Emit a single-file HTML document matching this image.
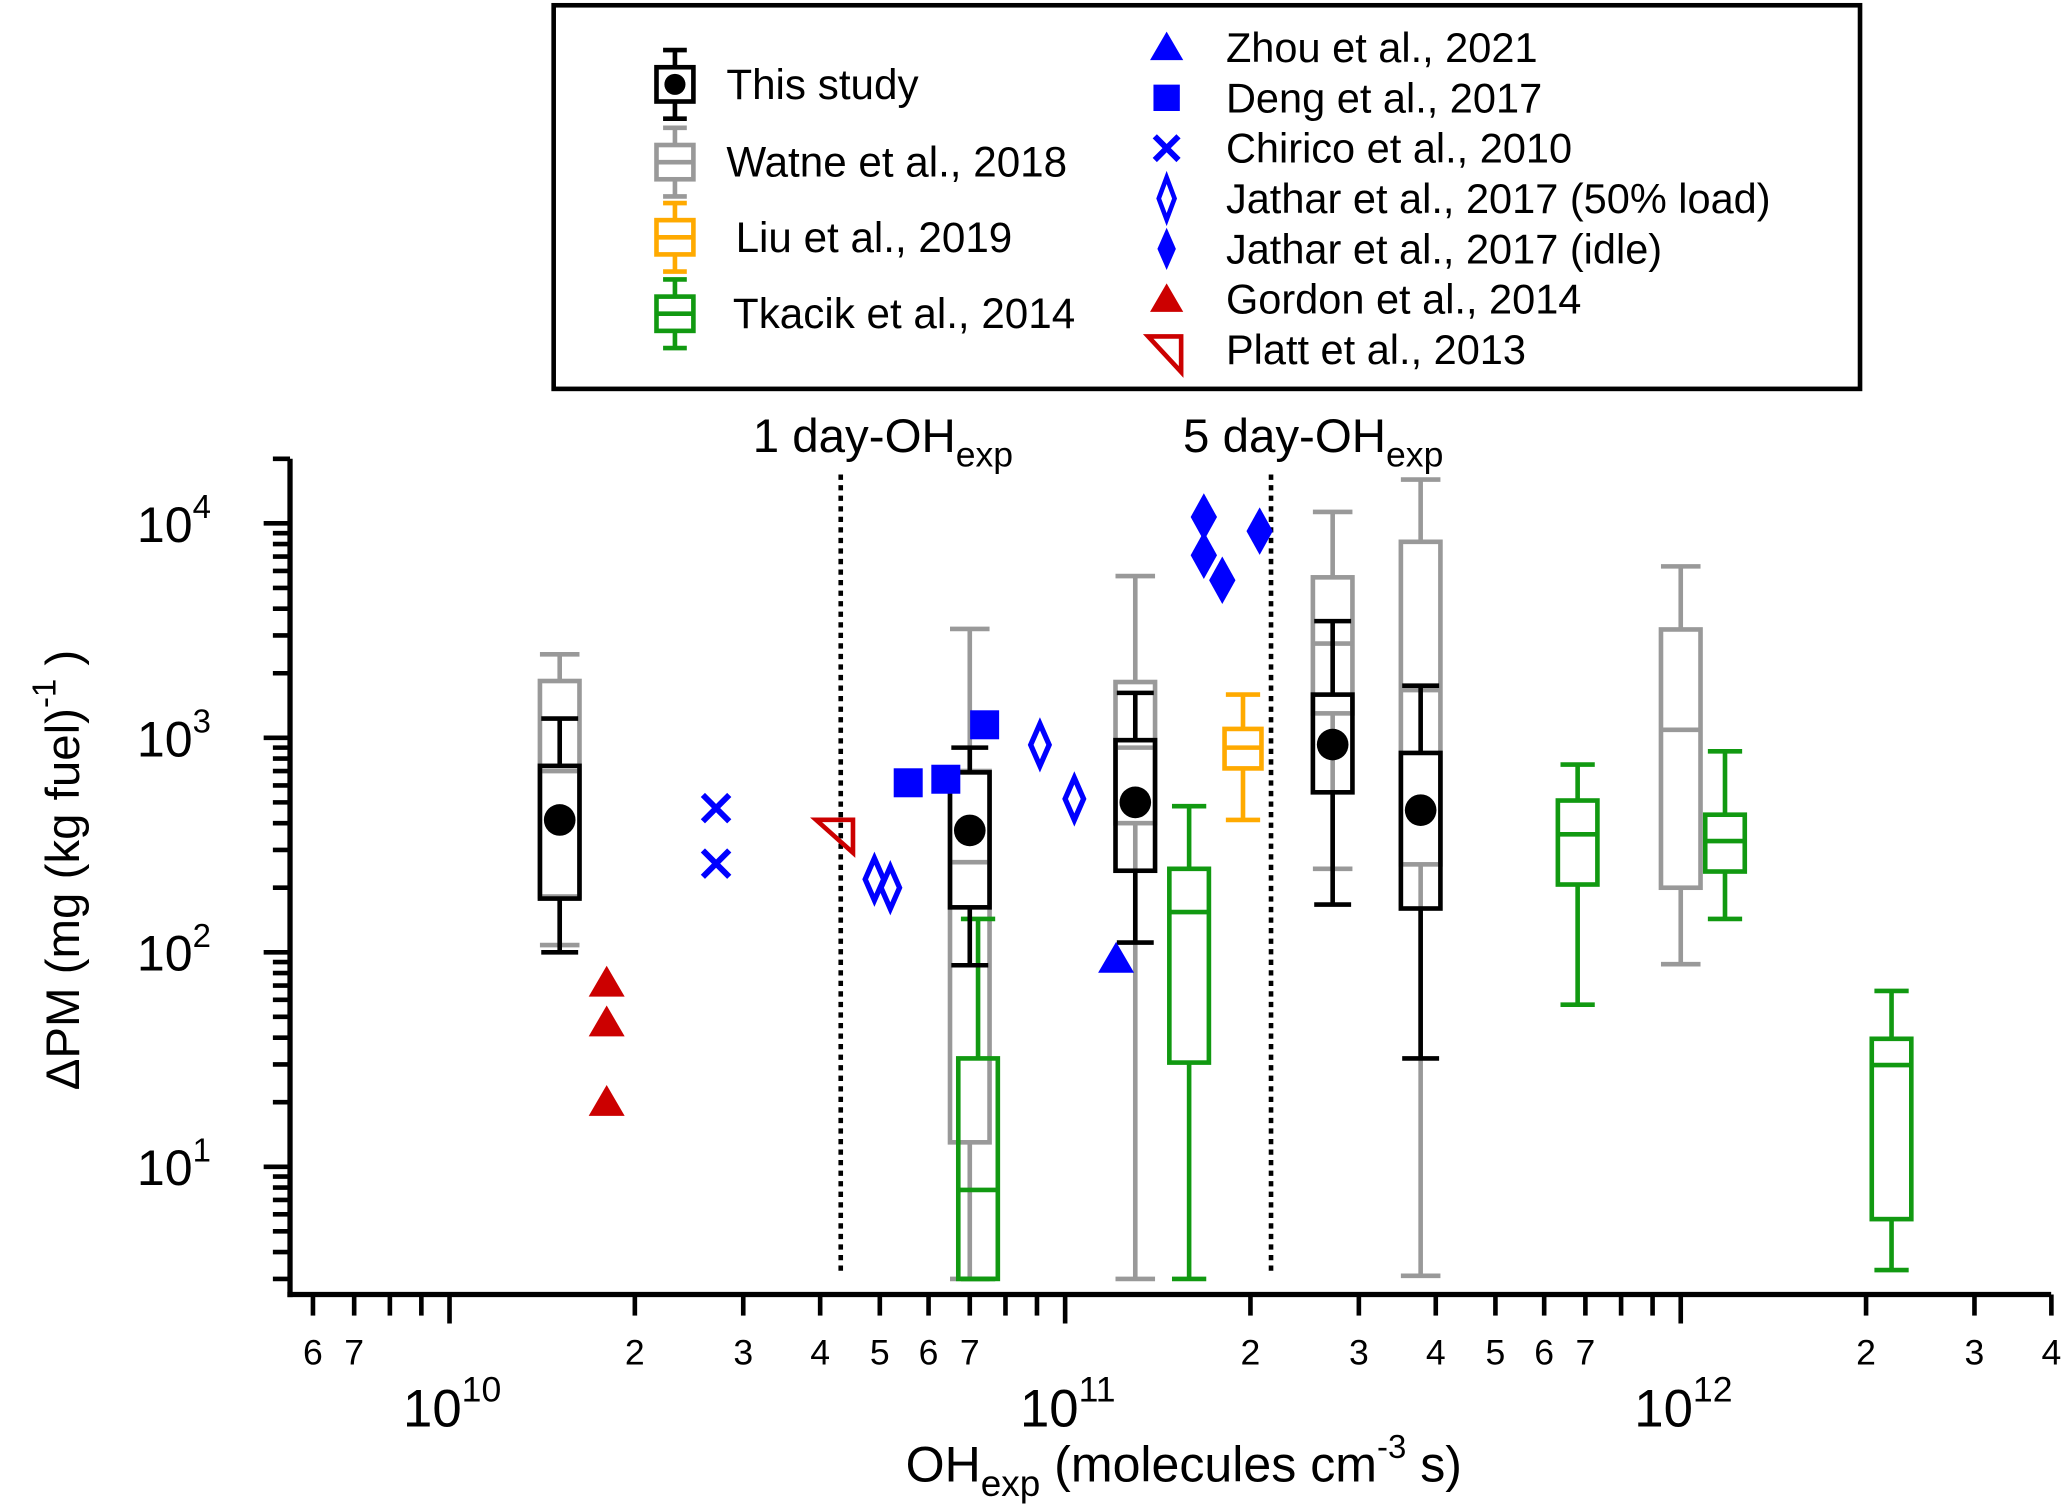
<!DOCTYPE html>
<html><head><meta charset="utf-8"><style>
html,body{margin:0;padding:0;background:#fff;}
svg{display:block;font-family:"Liberation Sans",Arial,sans-serif;}
</style></head><body>
<svg id="chart" width="2067" height="1512" viewBox="0 0 1568 1147" xmlns="http://www.w3.org/2000/svg">
<g id="plot"></g>
</svg>
<script>
// ---- data ----
const boxGroups = ["This study","Watne et al., 2018","Liu et al., 2019","Tkacik et al., 2014"];
const thisX    = [1.51e10, 7.0e10, 1.30e11, 2.72e11, 3.78e11];
const thisLo   = [100, 87, 111, 167, 32];
const thisQ1   = [178, 162, 240, 557, 160];
const thisQ3   = [740, 690, 975, 1590, 850];
const thisHi   = [1230, 900, 1620, 3500, 1750];
const thisMean = [414, 370, 500, 930, 460];

const watneX   = [1.51e10, 7.0e10, 1.30e11, 2.72e11, 3.78e11, 1.0e12];
const watneLo  = [108, 3, 3, 245, 3.1, 88];
const watneQ1  = [182, 13, 400, 1300, 257, 200];
const watneMed = [700, 263, 900, 2750, 1670, 1090];
const watneQ3  = [1840, 700, 1820, 5600, 8200, 3200];
const watneHi  = [2450, 3220, 5680, 11300, 16000, 6300];

const liuX   = [1.945e11];
const liuLo  = [414];
const liuQ1  = [720];
const liuMed = [900];
const liuQ3  = [1100];
const liuHi  = [1590];

const tkX   = [7.22e10, 1.59e11, 6.8e11, 1.18e12, 2.2e12];
const tkLo  = [3, 3, 57, 143, 3.3];
const tkQ1  = [3, 30.6, 207, 238, 5.7];
const tkMed = [7.8, 154, 355, 330, 29.8];
const tkQ3  = [32, 245, 510, 438, 39.5];
const tkHi  = [143, 480, 750, 865, 66];

const zhouX = [1.21e11], zhouY = [93];
const dengX = [5.56e10, 6.4e10, 7.4e10], dengY = [617, 641, 1150];
const chiricoX = [2.71e10, 2.71e10], chiricoY = [470, 259];
const jatharLoadX = [4.9e10, 5.2e10, 9.1e10, 1.035e11], jatharLoadY = [219, 200, 927, 519];
const jatharIdleX = [1.68e11, 1.68e11, 1.80e11, 2.07e11], jatharIdleY = [10700, 7100, 5430, 9200];
const gordonX = [1.8e10, 1.8e10, 1.8e10], gordonY = [72, 47, 20];
const plattX = [4.2e10], plattY = [360];
const refLinesX = [4.32e10, 2.16e11];
const refLabels = ["1 day-OH", "5 day-OH"];

const yTickExps = [1, 2, 3, 4];
const xDecadeExps = [10, 11, 12];
const xMinorLabels = [6e9,7e9,2e10,3e10,4e10,5e10,6e10,7e10,2e11,3e11,4e11,5e11,6e11,7e11,2e12,3e12,4e12];

// ---- axes ----
const L=220, R=1556, T=348, B=982;
const X0 = 341, XD = 467;
const Y0 = 397, YD = 162.7;
function sx(v){ return X0 + (Math.log10(v) - 10) * XD; }
function sy(v){ return Y0 - (Math.log10(v) - 4) * YD; }

const NS="http://www.w3.org/2000/svg";
const plot=document.getElementById('plot');
function mk(tag, attrs, parent){
  const e=document.createElementNS(NS,tag);
  for(const k in attrs) e.setAttribute(k, attrs[k]);
  (parent||plot).appendChild(e); return e;
}
function grp(name){
  const g=mk('g',{});
  
  
  return g;
}

const ax=grp('axes');
mk('line',{x1:L,y1:T,x2:L,y2:B+2,stroke:'#000','stroke-width':4},ax);
mk('line',{x1:L-2,y1:B,x2:R,y2:B,stroke:'#000','stroke-width':4},ax);
for(let e=0;e<=4;e++){
  for(let m=1;m<10;m++){
    const v=m*Math.pow(10,e); const y=sy(v);
    if(y<T-1||y>B) continue;
    mk('line',{x1:L-(m===1?20:13),y1:y,x2:L,y2:y,stroke:'#000','stroke-width':3.5},ax);
  }
}
yTickExps.forEach(e=>{
  const t=mk('text',{x:L-60,y:sy(Math.pow(10,e))+14,'font-size':38,'text-anchor':'end'},ax);
  
  
  t.innerHTML='10<tspan dy="-18" font-size="25">'+e+'</tspan>';
});
for(let e=9;e<=12;e++){
  for(let m=1;m<10;m++){
    const v=m*Math.pow(10,e); const x=sx(v);
    if(x<L||x>R+2) continue;
    mk('line',{x1:x,y1:B,x2:x,y2:B+(m===1?22:16),stroke:'#000','stroke-width':3.5},ax);
  }
}
xMinorLabels.forEach(v=>{
  const m=Math.round(v/Math.pow(10,Math.floor(Math.log10(v)+1e-9)));
  const t=mk('text',{x:sx(v),y:B+53,'font-size':27,'text-anchor':'middle'},ax);
  
  
  t.textContent=m;
});
xDecadeExps.forEach(e=>{
  const t=mk('text',{x:sx(Math.pow(10,e))+2,y:B+100,'font-size':40,'text-anchor':'middle'},ax);
  
  
  t.innerHTML='10<tspan dy="-19" font-size="27">'+e+'</tspan>';
});
let t=mk('text',{x:898,y:1124,'font-size':38,'text-anchor':'middle'});


t.innerHTML='OH<tspan dy="11" font-size="28">exp</tspan><tspan dy="-11"> (molecules cm</tspan><tspan dy="-18" font-size="25">-3</tspan><tspan dy="18"> s)</tspan>';
t=mk('text',{x:0,y:0,'font-size':36,'text-anchor':'middle',transform:'translate(60,660) rotate(-90)'});


t.innerHTML='ΔPM (mg (kg fuel)<tspan dy="-18" font-size="25">-1</tspan><tspan dy="18"> )</tspan>';

refLinesX.forEach((v,i)=>{
  const g=grp('reference-line-'+(i+1));
  mk('line',{x1:sx(v),y1:360,x2:sx(v),y2:968,stroke:'#000','stroke-width':3.5,'stroke-dasharray':'4 4'},g);
  const tx=mk('text',{x:sx(v)+32,y:343,'font-size':36,'text-anchor':'middle'},g);
  tx.innerHTML=refLabels[i]+'<tspan dy="11" font-size="27">exp</tspan>';
});

function drawBox(x,lo,q1,med,q3,hi,col,name,w,capW){
  const g=grp(name);
  const cx=sx(x), hw=w/2, cw=capW/2;
  mk('line',{x1:cx,y1:sy(hi),x2:cx,y2:sy(q3),stroke:col,'stroke-width':3.5},g);
  mk('line',{x1:cx,y1:sy(q1),x2:cx,y2:sy(lo),stroke:col,'stroke-width':3.5},g);
  mk('line',{x1:cx-cw,y1:sy(hi),x2:cx+cw,y2:sy(hi),stroke:col,'stroke-width':3.5},g);
  mk('line',{x1:cx-cw,y1:sy(lo),x2:cx+cw,y2:sy(lo),stroke:col,'stroke-width':3.5},g);
  mk('rect',{x:cx-hw,y:sy(q3),width:w,height:sy(q1)-sy(q3),fill:'none',stroke:col,'stroke-width':3.5},g);
  if(med!=null) mk('line',{x1:cx-hw,y1:sy(med),x2:cx+hw,y2:sy(med),stroke:col,'stroke-width':3.5},g);
  return g;
}
watneX.forEach((x,i)=>drawBox(x,watneLo[i],watneQ1[i],watneMed[i],watneQ3[i],watneHi[i],'#999','watne-box-'+(i+1),30,30));
tkX.forEach((x,i)=>drawBox(x,tkLo[i],tkQ1[i],tkMed[i],tkQ3[i],tkHi[i],'#119911','tkacik-box-'+(i+1),30,26));
liuX.forEach((x,i)=>drawBox(x,liuLo[i],liuQ1[i],liuMed[i],liuQ3[i],liuHi[i],'#ffaa00','liu-box-'+(i+1),28,26));
thisX.forEach((x,i)=>{
  const g=drawBox(x,thisLo[i],thisQ1[i],null,thisQ3[i],thisHi[i],'#000','this-study-box-'+(i+1),30,28);
  mk('circle',{cx:sx(x),cy:sy(thisMean[i]),r:12,fill:'#000'},g);
});

function tri(cx,cy,s){ return `M${cx},${cy-s} L${cx+s*1.05},${cy+s*0.8} L${cx-s*1.05},${cy+s*0.8} Z`; }
zhouX.forEach((x,i)=>{const p=mk('path',{d:tri(sx(x),sy(zhouY[i]),13),fill:'#0000ff'});
  });
gordonX.forEach((x,i)=>{const p=mk('path',{d:tri(sx(x),sy(gordonY[i]),13),fill:'#cc0000'});
  });
dengX.forEach((x,i)=>{const p=mk('rect',{x:sx(x)-11,y:sy(dengY[i])-11,width:22,height:22,fill:'#0000ff'});
  });
chiricoX.forEach((x,i)=>{const cx=sx(x),cy=sy(chiricoY[i]);
  const p=mk('path',{d:`M${cx-10},${cy-10}L${cx+10},${cy+10}M${cx+10},${cy-10}L${cx-10},${cy+10}`,stroke:'#0000ff','stroke-width':4.5});
  });
jatharLoadX.forEach((x,i)=>{const cx=sx(x),cy=sy(jatharLoadY[i]);
  const p=mk('path',{d:`M${cx},${cy-16}L${cx+7},${cy}L${cx},${cy+16}L${cx-7},${cy}Z`,fill:'none',stroke:'#0000ff','stroke-width':4});
  });
jatharIdleX.forEach((x,i)=>{const cx=sx(x),cy=sy(jatharIdleY[i]);
  const p=mk('path',{d:`M${cx},${cy-18}L${cx+10},${cy}L${cx},${cy+18}L${cx-10},${cy}Z`,fill:'#0000ff'});
  });
plattX.forEach((x,i)=>{const cx=sx(x),cy=sy(plattY[i]);
  const p=mk('path',{d:`M${cx-13},${cy-10}L${cx+15},${cy-10}L${cx+15},${cy+15}Z`,fill:'none',stroke:'#cc0000','stroke-width':3.5});
  });

const lg=grp('legend');
mk('rect',{x:420,y:4,width:991,height:291,fill:'#fff',stroke:'#000','stroke-width':3.5},lg);
const boxLegY=[64,123,180,238], boxLegCol=['#000','#999','#ffaa00','#119911'], boxLegTx=[551,551,558,556];
boxGroups.forEach((name,i)=>{
  const cx=512, cy=boxLegY[i], c=boxLegCol[i];
  const g=mk('g',{},lg);
  
  
  mk('line',{x1:cx,y1:cy-26,x2:cx,y2:cy+26,stroke:c,'stroke-width':3.5},g);
  mk('line',{x1:cx-9,y1:cy-26,x2:cx+9,y2:cy-26,stroke:c,'stroke-width':3.5},g);
  mk('line',{x1:cx-9,y1:cy+26,x2:cx+9,y2:cy+26,stroke:c,'stroke-width':3.5},g);
  mk('rect',{x:cx-14,y:cy-13,width:28,height:26,fill:'#fff',stroke:c,'stroke-width':3.5},g);
  if(i===0) mk('circle',{cx:cx,cy:cy,r:8,fill:'#000'},g);
  else mk('line',{x1:cx-14,y1:cy,x2:cx+14,y2:cy,stroke:c,'stroke-width':3.5},g);
  const tt=mk('text',{x:boxLegTx[i],y:cy+11,'font-size':32},g); tt.textContent=name;
});
const ptLeg=["Zhou et al., 2021","Deng et al., 2017","Chirico et al., 2010","Jathar et al., 2017 (50% load)","Jathar et al., 2017 (idle)","Gordon et al., 2014","Platt et al., 2013"];
ptLeg.forEach((name,i)=>{
  const cy=36+i*38.2, cx=885;
  const g=mk('g',{},lg);
  
  
  if(i===0) mk('path',{d:tri(cx,cy,12),fill:'#0000ff'},g);
  if(i===1) mk('rect',{x:cx-10,y:cy-10,width:20,height:20,fill:'#0000ff'},g);
  if(i===2) mk('path',{d:`M${cx-9},${cy-9}L${cx+9},${cy+9}M${cx+9},${cy-9}L${cx-9},${cy+9}`,stroke:'#0000ff','stroke-width':4.5},g);
  if(i===3) mk('path',{d:`M${cx},${cy-16}L${cx+6},${cy}L${cx},${cy+16}L${cx-6},${cy}Z`,fill:'none',stroke:'#0000ff','stroke-width':3.5},g);
  if(i===4) mk('path',{d:`M${cx},${cy-16}L${cx+7},${cy}L${cx},${cy+16}L${cx-7},${cy}Z`,fill:'#0000ff'},g);
  if(i===5) mk('path',{d:tri(cx,cy,12),fill:'#cc0000'},g);
  if(i===6) mk('path',{d:`M${cx-14},${cy-10}L${cx+11},${cy-10}L${cx+11},${cy+17}Z`,fill:'none',stroke:'#cc0000','stroke-width':3.5},g);
  const tt=mk('text',{x:930,y:cy+11,'font-size':31.5},g); tt.textContent=name;
});
</script>
</body></html>
